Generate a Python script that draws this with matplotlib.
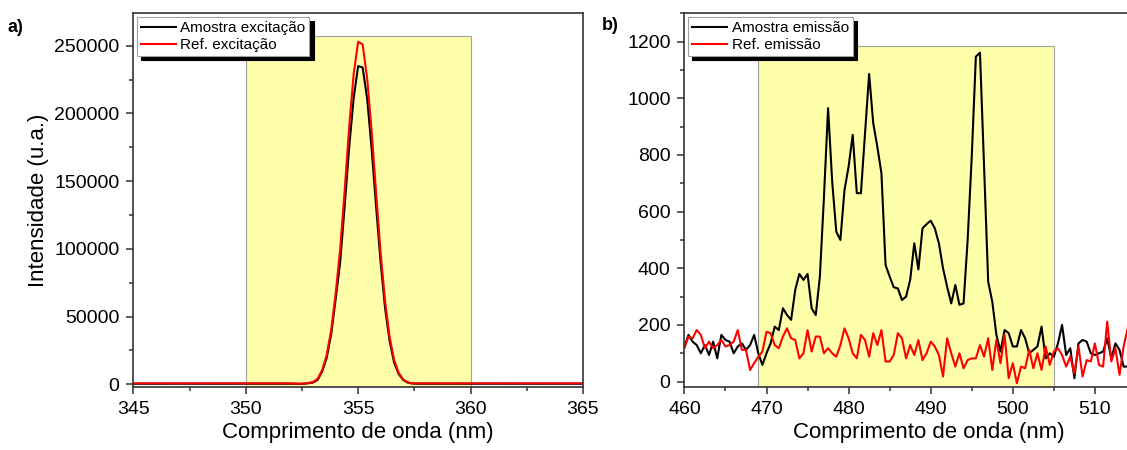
import matplotlib.pyplot as plt
from matplotlib.patches import Rectangle
from matplotlib.ticker import MultipleLocator

plt.rcParams['font.family'] = ['Liberation Sans', 'DejaVu Sans']

# --- a) excitation spectra ---
ex_wl = [345, 346, 347, 348, 349, 350, 351, 352,
         352.4, 352.6, 352.8, 353.0, 353.2, 353.4, 353.6, 353.8, 354.0,
         354.2, 354.4, 354.6, 354.8, 355.0, 355.2, 355.4, 355.6, 355.8,
         356.0, 356.2, 356.4, 356.6, 356.8, 357.0, 357.2, 357.4,
         357.6, 357.8, 358, 359, 360, 361, 362, 363, 364, 365]
ex_amostra = [400, 380, 420, 400, 390, 410, 400, 420,
              300, 450, 800, 1300, 3300, 9500, 19500, 37000, 63000,
              90100, 131600, 174800, 211300, 235000, 234000, 211000, 174000, 131000,
              90000, 56000, 32000, 16000, 7700, 3300, 1300, 600,
              450, 400, 400, 390, 400, 410, 400, 390, 400, 400]
ex_ref = [700, 700, 680, 700, 710, 700, 690, 700,
          400, 600, 1000, 1700, 4200, 10500, 21500, 40000, 67000,
          100000, 143000, 190000, 229000, 253000, 251000, 226000, 187000, 141000,
          97000, 61000, 35000, 18000, 8500, 3600, 1400, 700,
          700, 700, 700, 690, 700, 710, 700, 700, 690, 700]
ex_band = (350, 360, 257300)

# --- b) emission spectra (0.5 nm steps from 460 nm) ---
em_start, em_step = 460.0, 0.5
em_amostra = [123, 165, 141, 129, 100, 129, 94, 141, 82, 165,
              147, 141, 100, 124, 135, 112, 129, 165, 100, 59,
              100, 135, 194, 182, 259, 235, 218, 324, 380, 359,
              380, 259, 235, 371, 653, 965, 706, 529, 500, 676,
              759, 871, 665, 665, 876, 1086, 912, 829, 735, 412,
              371, 333, 329, 288, 300, 359, 488, 396, 541, 556,
              568, 541, 488, 400, 335, 276, 341, 271, 276, 500,
              794, 1147, 1161, 760, 353, 282, 165, 106, 182, 171,
              124, 124, 182, 153, 100, 112, 124, 194, 82, 100,
              88, 135, 200, 94, 118, 12, 135, 147, 141, 100,
              94, 100, 106, 153, 82, 135, 112, 53, 53]
em_ref = [118, 159, 153, 182, 165, 118, 141, 118, 129, 147,
          124, 129, 141, 182, 112, 112, 41, 65, 88, 106,
          176, 171, 129, 118, 159, 188, 153, 147, 82, 100,
          182, 106, 159, 159, 100, 118, 100, 88, 129, 188,
          153, 100, 82, 165, 147, 88, 171, 129, 182, 71,
          71, 94, 171, 153, 82, 129, 94, 147, 76, 100,
          141, 124, 94, 18, 153, 100, 53, 100, 47, 76,
          82, 82, 129, 88, 153, 41, 147, 65, 165, 12,
          65, -6, 53, 47, 112, 47, 100, 41, 124, 59,
          106, 118, 94, 53, 88, 29, 124, 18, 76, 71,
          135, 59, 53, 212, 71, 118, 24, 124, 188]
em_wl = [em_start + em_step * i for i in range(len(em_amostra))]
em_band = (469, 505, 1185)

fig = plt.figure(figsize=(11.27, 4.5), dpi=100)
ax1 = fig.add_axes([133.3 / 1127, 63 / 450, 449.7 / 1127, 373.7 / 450])
ax2 = fig.add_axes([684.4 / 1127, 63 / 450, 488.5 / 1127, 373.7 / 450])

panels = [
    (ax1, ex_wl, ex_amostra, ex_ref, ex_band, (345, 365), (-2000, 274000),
     'Amostra excitação', 'Ref. excitação', 5, 2.5, 50000, 25000),
    (ax2, em_wl, em_amostra, em_ref, em_band, (460, 519.5), (-19, 1300),
     'Amostra emissão', 'Ref. emissão', 10, 5, 200, 100),
]

for ax, wl, amostra, ref, band, xlim, ylim, lab1, lab2, xmaj, xmin, ymaj, ymin in panels:
    ax.add_patch(Rectangle((band[0], ylim[0]), band[1] - band[0], band[2] - ylim[0],
                           facecolor='#ffffaa', edgecolor='#a0a0a0', lw=0.8, zorder=0))
    ax.plot(wl, amostra, color='black', lw=1.5, label=lab1)
    ax.plot(wl, ref, color='red', lw=1.5, label=lab2)
    ax.set_xlim(*xlim)
    ax.set_ylim(*ylim)
    ax.xaxis.set_major_locator(MultipleLocator(xmaj))
    ax.xaxis.set_minor_locator(MultipleLocator(xmin))
    ax.yaxis.set_major_locator(MultipleLocator(ymaj))
    ax.yaxis.set_minor_locator(MultipleLocator(ymin))
    ax.tick_params(which='both', direction='out', top=False, right=False,
                   width=1.1, color='#333333')
    ax.tick_params(which='major', length=5, labelsize=14, pad=5)
    ax.tick_params(which='minor', length=3)
    for s in ax.spines.values():
        s.set_linewidth(1.2)
        s.set_color('#333333')
    ax.set_xlabel('Comprimento de onda (nm)', fontsize=16, labelpad=3)
    leg = ax.legend(loc='upper left', bbox_to_anchor=(0.008, 0.99), borderaxespad=0,
                    fontsize=11, frameon=True, fancybox=False, framealpha=1,
                    edgecolor='#a0a0a0',
                    shadow={'color': 'black', 'alpha': 1, 'ox': 3, 'oy': -3},
                    handlelength=2.3, handletextpad=0.3, labelspacing=0.2,
                    borderpad=0.25)
    leg.get_frame().set_linewidth(0.8)

ax1.set_ylabel('Intensidade (u.a.)', fontsize=16, labelpad=4)

fig.text(8 / 1127, 1 - 27 / 450, 'a)', fontsize=13, fontweight='bold', va='center')
fig.text(602 / 1127, 1 - 25 / 450, 'b)', fontsize=13, fontweight='bold', va='center')

fig.savefig('out.png', dpi=100)
